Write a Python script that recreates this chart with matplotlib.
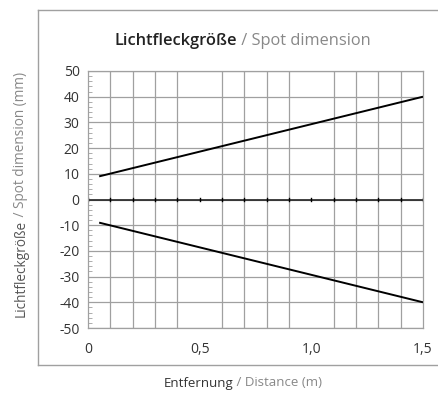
import numpy as np
import matplotlib
matplotlib.use('Agg')
import matplotlib.pyplot as plt
from matplotlib.lines import Line2D

plt.rcParams['font.family'] = ['Open Sans', 'DejaVu Sans']
plt.rcParams['axes.unicode_minus'] = False

# data
dist = [0.05, 1.5]
upper = [9, 40]
lower = [-9, -40]

xticks = [0, 0.5, 1.0, 1.5]
xticklabels = ['0', '0,5', '1,0', '1,5']
yticks = list(range(-50, 51, 10))

fig = plt.figure(figsize=(4.38, 3.94), dpi=100)
W, H = 438, 394
ax = fig.add_axes([88/W, 1-328/H, (423-88)/W, (328-71)/H])

grey = '#a0a0a0'
ax.plot(dist, upper, color='black', lw=1.4, solid_capstyle='butt', zorder=3)
ax.plot(dist, lower, color='black', lw=1.4, solid_capstyle='butt', zorder=3)

ax.set_xlim(0, 1.5)
ax.set_ylim(-50, 50)
ax.set_xticks(xticks)
ax.set_xticklabels(xticklabels)
ax.set_yticks(yticks)
ax.set_yticklabels([str(v) for v in yticks])
ax.set_xticks(np.arange(0, 1.51, 0.1), minor=True)
ax.set_yticks(np.arange(-50, 51, 2), minor=True)
ax.grid(True, which='major', axis='y', color=grey, lw=0.9)
ax.grid(True, which='minor', axis='x', color=grey, lw=0.9)
ax.tick_params(axis='x', which='both', length=0, labelsize=10, pad=10, colors='#333333')
ax.tick_params(axis='y', which='major', length=0, labelsize=10, pad=6, colors='#333333')
ax.tick_params(axis='y', which='minor', length=3, direction='in', color=grey, width=0.6)
for s in ax.spines.values():
    s.set_color(grey)
    s.set_linewidth(0.9)

# zero axis with small ticks
ax.axhline(0, color='#222222', lw=1.2, zorder=2)
for xv in np.arange(0, 1.51, 0.1):
    ax.plot([xv, xv], [-0.4, 0.4], color='black', lw=1.0, zorder=2)

# outer frame (runs off the right edge)
for xs, ys in [([38, 445], [10, 10]), ([38, 445], [365, 365]), ([38, 38], [10, 365])]:
    fig.lines.append(Line2D([x/W for x in xs], [1-y/H for y in ys],
                            transform=fig.transFigure, color=grey, lw=1.0))

def two_tone(x, y, a, b, size, rot=0, wa='normal', c1='#222222'):
    fig.canvas.draw()
    r = fig.canvas.get_renderer()
    t1 = fig.text(0, 0, a, fontsize=size, color=c1, fontweight=wa, rotation=rot)
    t2 = fig.text(0, 0, b, fontsize=size, color='#888888', rotation=rot)
    e1 = t1.get_window_extent(r)
    e2 = t2.get_window_extent(r)
    if rot == 0:
        tot = e1.width + e2.width
        x0 = x - tot/2
        t1.set_position((x0/W, 1-y/H)); t1.set_va('center')
        t2.set_position(((x0+e1.width)/W, 1-y/H)); t2.set_va('center')
    else:
        tot = e1.height + e2.height
        y0 = y + tot/2
        t1.set_position((x/W, 1-y0/H)); t1.set_ha('center'); t1.set_va('bottom')
        t2.set_position((x/W, 1-(y0-e1.height)/H)); t2.set_ha('center'); t2.set_va('bottom')

two_tone(243, 41, 'Lichtfleckgröße', ' / Spot dimension', 11.8, wa='semibold')
two_tone(243, 383, 'Entfernung', ' / Distance (m)', 9.5, c1='#333333')
two_tone(21, 194, 'Lichtfleckgröße', ' / Spot dimension (mm)', 9.8, rot=90, c1='#555555')

fig.savefig('out.png', dpi=100)
